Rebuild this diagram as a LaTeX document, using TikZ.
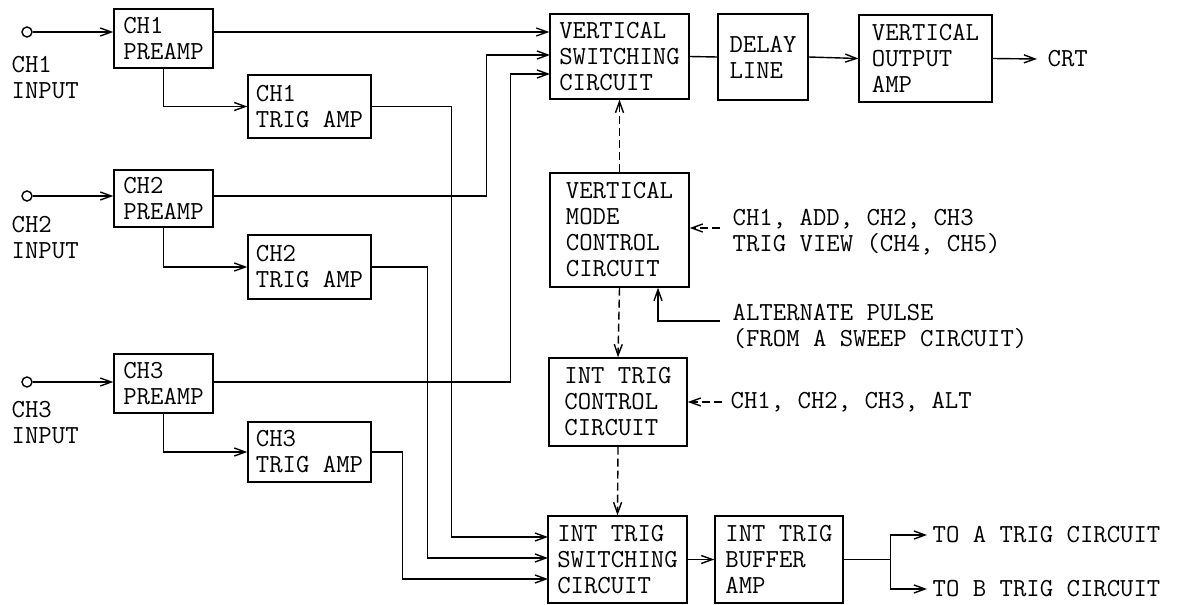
\documentclass[tikz,border=0pt]{standalone}
\usetikzlibrary{arrows.meta}

\begin{document}
\begin{tikzpicture}[x=1pt, y=-1pt, line width=1.4pt,
    every node/.style={font=\ttfamily\fontsize{26}{26}\selectfont},
    blk/.style={draw, align=left, inner sep=0pt},
    term/.style={circle, draw, minimum size=10pt, inner sep=0pt},
    lbl/.style={align=left, inner sep=0pt, anchor=west},
    arr/.style={-{Straight Barb[length=11pt,width=8pt]}},
    darr/.style={arr, dash pattern=on 8pt off 4pt}]
    \useasboundingbox (0,0) rectangle (1178,605);

    % input channels
    \node[term] (in1) at (27,32) {};
    \node[term] (in2) at (27,196) {};
    \node[term] (in3) at (27,382) {};
    \node[lbl] (lab1) at (11,78) {CH1\\INPUT};
    \node[lbl] (lab2) at (11,238) {CH2\\INPUT};
    \node[lbl] (lab3) at (11,423) {CH3\\INPUT};

    \node[blk, minimum width=99pt, minimum height=59pt] (pre1) at (163.5,38.5) {CH1\\PREAMP};
    \node[blk, minimum width=99pt, minimum height=57pt] (pre2) at (163.5,198.5) {CH2\\PREAMP};
    \node[blk, minimum width=99pt, minimum height=59pt] (pre3) at (163.5,383.5) {CH3\\PREAMP};
    \node[blk, minimum width=123pt, minimum height=63pt] (trig1) at (309.5,106.5) {CH1\\TRIG AMP};
    \node[blk, minimum width=123pt, minimum height=64pt] (trig2) at (309.5,267) {CH2\\TRIG AMP};
    \node[blk, minimum width=123pt, minimum height=60pt] (trig3) at (309.5,452) {CH3\\TRIG AMP};

    % vertical chain
    \node[blk, minimum width=139pt, minimum height=85pt] (vs) at (619.5,56.5) {VERTICAL\\SWITCHING\\CIRCUIT};
    \node[blk, minimum width=90pt, minimum height=86pt] (delay) at (763,57) {DELAY\\LINE};
    \node[blk, minimum width=133pt, minimum height=87pt] (vout) at (925.5,58.5) {VERTICAL\\OUTPUT\\AMP};
    \node[lbl] (crt) at (1047,59) {CRT};
    \node[blk, minimum width=139pt, minimum height=114pt] (vmc) at (619.5,230) {VERTICAL\\MODE\\CONTROL\\CIRCUIT};
    \node[blk, minimum width=138pt, minimum height=88pt] (itc) at (618,402) {INT TRIG\\CONTROL\\CIRCUIT};
    \node[blk, minimum width=139pt, minimum height=87pt] (its) at (617.5,559.5) {INT TRIG\\SWITCHING\\CIRCUIT};
    \node[blk, minimum width=128pt, minimum height=87pt] (buf) at (779,559.5) {INT TRIG\\BUFFER\\AMP};

    \node[lbl] (mode) at (732,232) {CH1, ADD, CH2, CH3\\TRIG VIEW (CH4, CH5)};
    \node[lbl] (altp) at (732,326) {ALTERNATE PULSE\\(FROM A SWEEP CIRCUIT)};
    \node[lbl] (tsel) at (730,402) {CH1, CH2, CH3, ALT};
    \node[lbl] (toa) at (932,535) {TO A TRIG CIRCUIT};
    \node[lbl] (tob) at (932,589) {TO B TRIG CIRCUIT};

    \coordinate (vs2) at (550,55);
    \coordinate (vs3) at (550,74);
    \coordinate (its1) at (548,537);
    \coordinate (its2) at (548,558);
    \coordinate (its3) at (548,579);

    \draw[arr] (in1) -- (in1 -| pre1.west);
    \draw[arr] (in2) -- (in2 -| pre2.west);
    \draw[arr] (in3) -- (in3 -| pre3.west);
    \draw[arr] (pre1.south) |- (trig1.west);
    \draw[arr] (pre2.south) |- (trig2.west);
    \draw[arr] (pre3.south) |- (trig3.west);

    \draw[arr] (in1 -| pre1.east) -- (in1 -| vs.west);
    \draw[arr] (in2 -| pre2.east) -- +(273,0) |- (vs2);
    \draw[arr] (in3 -| pre3.east) -- +(297,0) |- (vs3);

    \draw[arr] (trig1.east) -- +(80,0) |- (its1);
    \draw[arr] (trig2.east) -- +(56,0) |- (its2);
    \draw[arr] (trig3.east) -- +(31,0) |- (its3);

    \draw (vs.east) -- (delay.west);
    \draw[arr] (delay.east) -- (vout.west);
    \draw[arr] (vout.east) -- ([xshift=-10pt]crt.west);

    \draw[darr] (vmc.north) -- (vs.south);
    \draw[darr] (vmc.south) -- (itc.north);
    \draw[darr] (itc.south) -- (its.north);
    \draw[darr] ([xshift=-12pt,yshift=4pt]mode.west) -- ([yshift=4pt]mode.west -| vmc.east);
    \draw[arr] ([xshift=-12pt,yshift=5pt]altp.west) -| ([xshift=38.5pt]vmc.south);
    \draw[darr] ([xshift=-8pt]tsel.west) -- (itc.east);

    \draw[arr] (its.east) -- (buf.west);
    \draw (buf.east) -- +(47,0) coordinate (fork);
    \draw[arr] (fork) |- ([xshift=-5pt]toa.west);
    \draw[arr] (fork) |- ([xshift=-5pt]tob.west);
\end{tikzpicture}
\end{document}
